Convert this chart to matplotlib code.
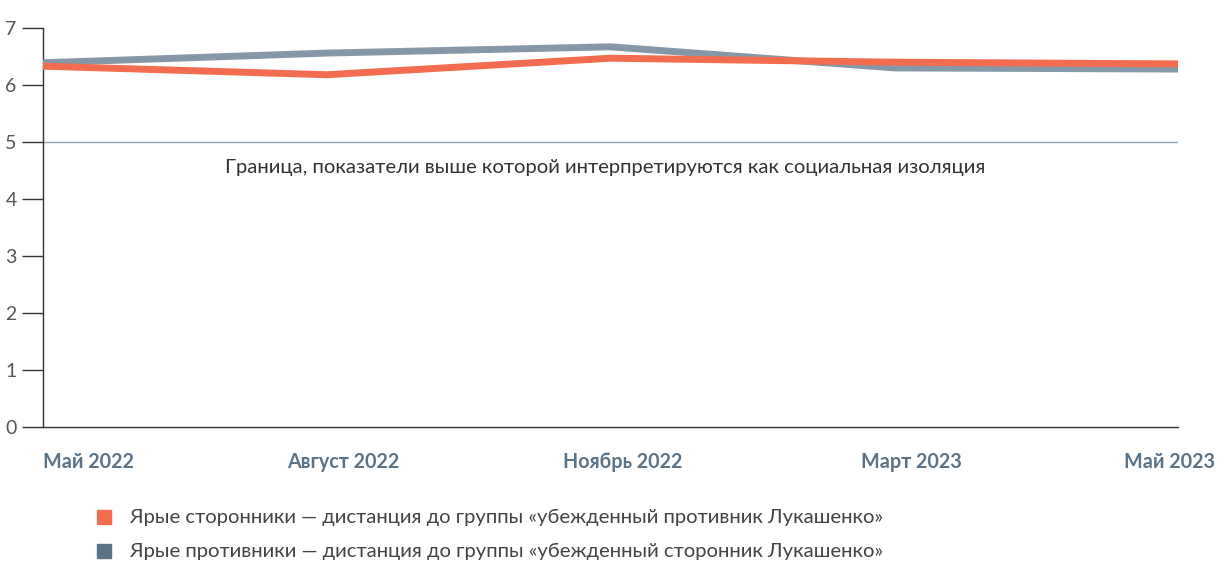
import matplotlib.pyplot as plt
from matplotlib.patches import Rectangle

# Data
periods = ["Май 2022", "Август 2022", "Ноябрь 2022", "Март 2023", "Май 2023"]
supporters = [6.33, 6.18, 6.47, 6.40, 6.37]  # orange
opponents = [6.39, 6.56, 6.67, 6.30, 6.28]   # grey
threshold = 5
threshold_text = "Граница, показатели выше которой интерпретируются как социальная изоляция"
legend_labels = [
    "Ярые сторонники — дистанция до группы «убежденный противник Лукашенко»",
    "Ярые противники — дистанция до группы «убежденный сторонник Лукашенко»",
]

orange = "#f26c4f"
grey_line = "#8698a8"
grey_legend = "#5b7386"
label_color = "#5b7386"
text_color = "#444444"

plt.rcParams['font.family'] = ['Lato', 'DejaVu Sans']

W, H = 1221, 561
fig = plt.figure(figsize=(W / 100, H / 100), dpi=100)
ax = fig.add_axes([43 / W, 1 - 427 / H, (1178 - 43) / W, (427 - 28) / H])

x = list(range(len(periods)))
ax.axhline(threshold, color="#8fa4b6", lw=1, zorder=1)
ax.plot(x, opponents, color=grey_line, lw=5, solid_capstyle="butt", clip_on=False, zorder=3)
ax.plot(x, supporters, color=orange, lw=5, solid_capstyle="butt", clip_on=False, zorder=4)

ax.text(0.5 * (len(periods) - 1) - 0.02, threshold - 0.44, threshold_text,
        ha="center", va="center", fontsize=14.6, color="#333333")

ax.set_xlim(0, len(periods) - 1)
ax.set_ylim(0, 7)
ax.set_yticks(range(0, 8))
ax.tick_params(axis="y", length=15, width=1, color="#333333", labelsize=14,
               labelcolor="#555555", pad=4)
ax.set_xticks([])
for s in ["top", "right"]:
    ax.spines[s].set_visible(False)
for s in ["left", "bottom"]:
    ax.spines[s].set_color("#333333")
    ax.spines[s].set_linewidth(1)

# x labels (placed as in the original layout)
label_x = [43, 343, 623, 911, 1215]
label_ha = ["left", "center", "center", "center", "right"]
for lab, lx, ha in zip(periods, label_x, label_ha):
    fig.text(lx / W, 1 - 462 / H, lab, ha=ha, va="center", fontsize=14.2,
             fontweight="bold", color=label_color)

# legend
for i, (lab, col) in enumerate(zip(legend_labels, [orange, grey_legend])):
    yc = 517 + 34 * i
    fig.add_artist(Rectangle((97 / W, 1 - (yc + 7) / H), 14 / W, 14 / H,
                             transform=fig.transFigure, color=col))
    fig.text(130 / W, 1 - yc / H, lab, ha="left", va="center", fontsize=14.6,
             color=text_color)

fig.savefig("out.png", dpi=100)
